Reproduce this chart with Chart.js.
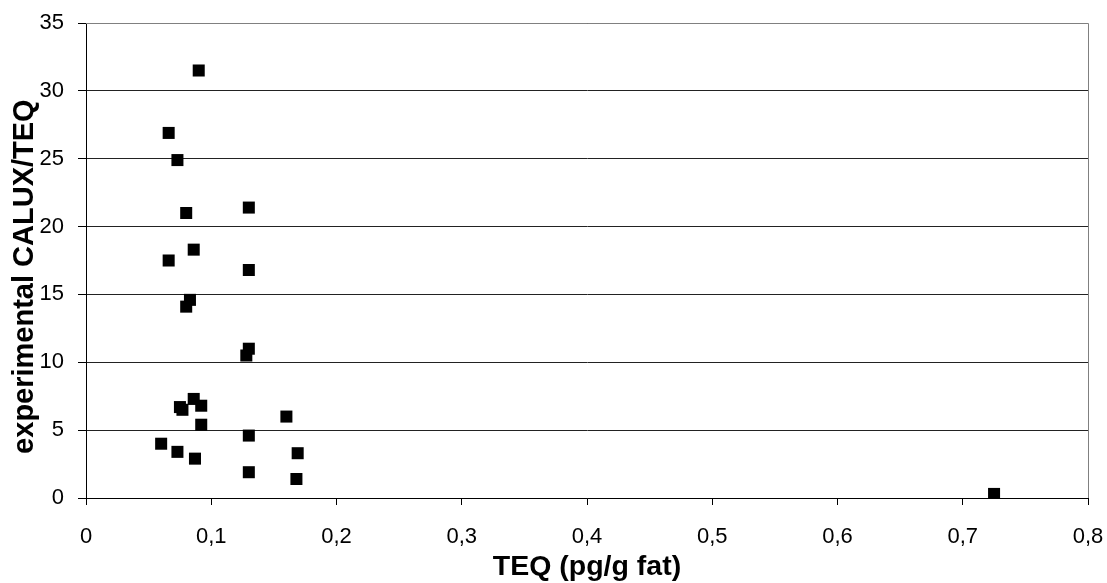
<!DOCTYPE html>
<html>
<head>
<meta charset="utf-8">
<script src="https://cdn.jsdelivr.net/npm/chart.js@4.4.1/dist/chart.umd.min.js"></script>
<style>
  html, body { margin: 0; padding: 0; background: #fff; }
  #wrap { width: 1107px; height: 583px; position: relative; }
</style>
</head>
<body>
<div id="wrap"><canvas id="c" width="1107" height="583"></canvas></div>
<script>
// TEQ (pg/g fat) values
const teq = [
  0.090, 0.066, 0.073, 0.080, 0.130, 0.086, 0.066, 0.130,
  0.083, 0.080, 0.130, 0.128, 0.086, 0.075, 0.077, 0.092,
  0.160, 0.092, 0.130, 0.060, 0.073, 0.169, 0.087, 0.130,
  0.168, 0.725
];
// experimental CALUX/TEQ ratios
const ratio = [
  31.5, 26.9, 24.9, 21.0, 21.4, 18.3, 17.5, 16.8,
  14.6, 14.1, 11.0, 10.5, 7.3, 6.7, 6.5, 6.8,
  6.0, 5.4, 4.6, 4.0, 3.4, 3.3, 2.9, 1.9,
  1.4, 0.3
];
const xTickLabels = ['0', '0,1', '0,2', '0,3', '0,4', '0,5', '0,6', '0,7', '0,8'];
const yTickLabels = ['0', '5', '10', '15', '20', '25', '30', '35'];
const xTitle = 'TEQ (pg/g fat)';
const yTitle = 'experimental CALUX/TEQ';

const points = teq.map((x, i) => ({ x: x, y: ratio[i] }));

const plotBorder = {
  id: 'plotBorder',
  afterDatasetsDraw(chart) {
    const { ctx, chartArea: a } = chart;
    ctx.save();
    ctx.strokeStyle = '#808080';
    ctx.lineWidth = 1;
    ctx.beginPath();
    ctx.moveTo(a.left, a.top + 0.5);
    ctx.lineTo(a.right + 0.5, a.top + 0.5);
    ctx.lineTo(a.right + 0.5, a.bottom);
    ctx.stroke();
    ctx.restore();
  }
};

const FONT = "'Liberation Sans', Arial, sans-serif";
const zeroPad = (s) => { s.paddingTop = 0; s.paddingBottom = 0; s.paddingLeft = 0; s.paddingRight = 0; };

new Chart(document.getElementById('c'), {
  type: 'scatter',
  data: {
    datasets: [{
      data: points,
      pointStyle: 'rect',
      pointRadius: 8.5,
      pointHoverRadius: 8.5,
      backgroundColor: '#000',
      borderColor: '#000',
      borderWidth: 0
    }]
  },
  options: {
    responsive: false,
    animation: false,
    events: [],
    layout: { padding: { top: 23, right: 19, left: 0, bottom: 0 } },
    plugins: { legend: { display: false }, tooltip: { enabled: false } },
    scales: {
      x: {
        type: 'linear',
        min: 0, max: 0.8,
        ticks: {
          stepSize: 0.1,
          color: '#000',
          font: { family: FONT, size: 22 },
          padding: 19,
          maxRotation: 0,
          callback: (v, i) => xTickLabels[i]
        },
        grid: { drawOnChartArea: false, drawTicks: true, tickLength: 7, color: '#000', tickColor: '#000' },
        border: { display: true, color: '#000', width: 1 },
        title: { display: true, text: xTitle, color: '#000', font: { family: FONT, size: 28.5, weight: 'bold', lineHeight: 1 }, padding: { top: 4, bottom: 2 } },
        afterFit: (s) => { s.height = 85; zeroPad(s); }
      },
      y: {
        type: 'linear',
        min: 0, max: 35,
        ticks: {
          stepSize: 5,
          color: '#000',
          font: { family: FONT, size: 22 },
          padding: 14,
          callback: (v, i) => yTickLabels[i]
        },
        grid: { drawOnChartArea: true, drawTicks: true, tickLength: 8, color: '#222', tickColor: '#000' },
        border: { display: true, color: '#000', width: 1 },
        title: { display: true, text: yTitle + '\u00a0\u00a0\u00a0\u00a0', color: '#000', font: { family: FONT, size: 29, weight: 'bold', lineHeight: 1 }, padding: { top: 10, bottom: 0 } },
        afterFit: (s) => { s.width = 86; zeroPad(s); }
      }
    }
  },
  plugins: [plotBorder]
});
</script>
</body>
</html>
